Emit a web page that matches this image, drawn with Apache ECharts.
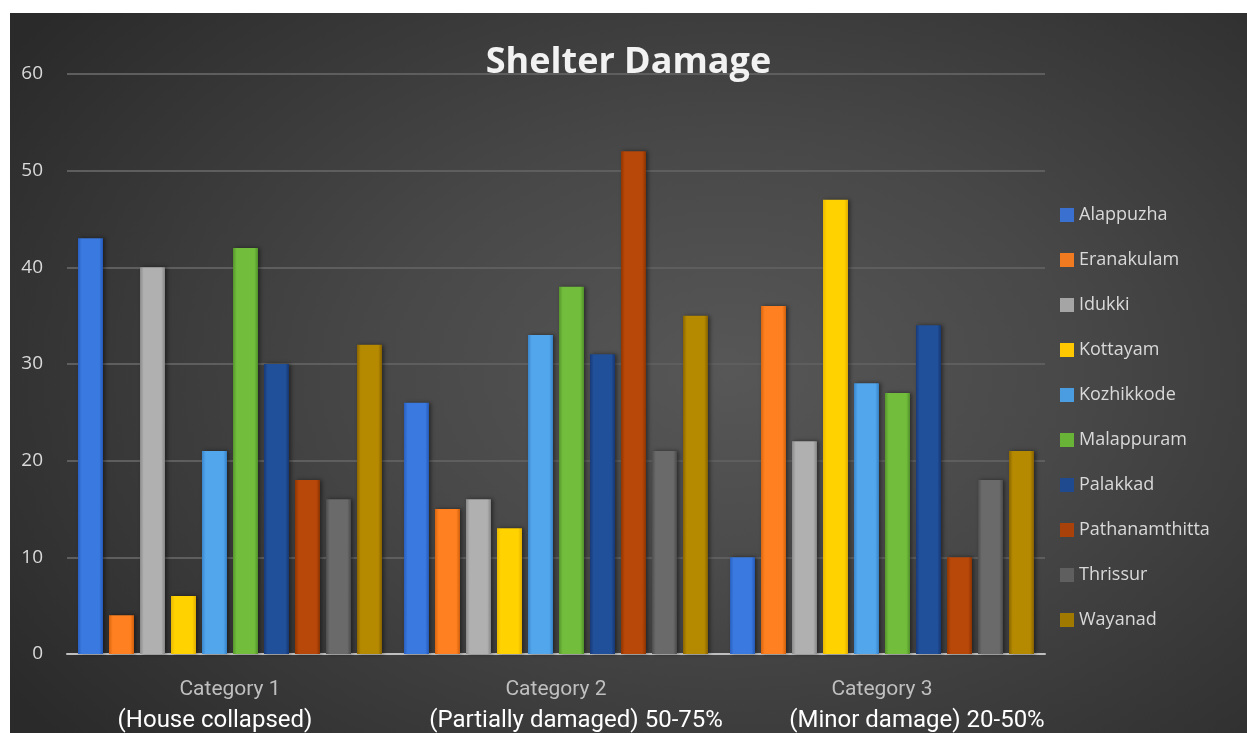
<!DOCTYPE html>
<html><head><meta charset="utf-8">
<script src="https://cdn.jsdelivr.net/npm/echarts@6/dist/echarts.min.js"></script>
<style>
html,body{margin:0;padding:0;background:#fff;width:1247px;height:733px;overflow:hidden}
#c{position:absolute;left:10px;top:13px;width:1237px;height:720px;
background:radial-gradient(ellipse 70% 80% at 58% 50%, #575757 0%, #484848 40%, #343434 80%, #2a2a2a 100%);}
</style></head><body>
<div id="c"></div>
<script>
const categories = ['Category 1', 'Category 2', 'Category 3'];
const subLabels = ['(House collapsed)', '(Partially damaged) 50-75%', '(Minor damage) 20-50%'];
const districts = ['Alappuzha','Eranakulam','Idukki','Kottayam','Kozhikkode','Malappuram','Palakkad','Pathanamthitta','Thrissur','Wayanad'];
const Alappuzha = [43, 26, 10];
const Eranakulam = [4, 15, 36];
const Idukki = [40, 16, 22];
const Kottayam = [6, 13, 47];
const Kozhikkode = [21, 33, 28];
const Malappuram = [42, 38, 27];
const Palakkad = [30, 31, 34];
const Pathanamthitta = [18, 52, 10];
const Thrissur = [16, 21, 18];
const Wayanad = [32, 35, 21];
const values = [Alappuzha, Eranakulam, Idukki, Kottayam, Kozhikkode, Malappuram, Palakkad, Pathanamthitta, Thrissur, Wayanad];
const colors = [
  ['#2a5fc0','#3a7ae0','#2458b5'],
  ['#d9650f','#ff8020','#cf5f0c'],
  ['#8a8a8a','#b0b0b0','#858585'],
  ['#e8b800','#ffd200','#e0ad00'],
  ['#3a86cc','#52a6ec','#3580c5'],
  ['#56952c','#72be3c','#50902a'],
  ['#173a78','#21509a','#163670'],
  ['#8f3500','#b8470a','#8a3300'],
  ['#4d4d4d','#6a6a6a','#4a4a4a'],
  ['#8a6400','#b58a00','#856000']
];
const legendColors = ['#3a70d0','#f07a20','#a5a5a5','#ffc800','#4a9de0','#68b238','#1f4a8f','#a8420a','#5f5f5f','#a07a00'];

const chart = echarts.init(document.getElementById('c'), null, {renderer:'canvas'});
const series = districts.map((name, i) => ({
  name: name,
  type: 'bar',
  data: values[i],
  barWidth: 25,
  barGap: '24%',
  itemStyle: {
    color: new echarts.graphic.LinearGradient(0,0,1,0,[
      {offset:0, color: colors[i][0]},
      {offset:0.15, color: colors[i][1]},
      {offset:0.85, color: colors[i][1]},
      {offset:1, color: colors[i][2]}
    ]),
    shadowColor: 'rgba(0,0,0,0.45)',
    shadowBlur: 4,
    shadowOffsetX: 2
  }
}));

const labelFont = 'Liberation Sans Narrow, Roboto, sans-serif';
chart.setOption({
  backgroundColor: 'transparent',
  color: legendColors,
  animation: false,
  title: {
    text: 'Shelter Damage',
    left: 'center',
    top: 27,
    textStyle: {color:'#f2f2f2', fontFamily:'Open Sans', fontWeight:'bold', fontSize:36}
  },
  legend: {
    orient: 'vertical',
    left: 1045,
    top: 188,
    itemWidth: 14,
    itemHeight: 14,
    itemGap: 27,
    icon: 'rect',
    data: districts.map((d,i)=>({name:d, itemStyle:{color:legendColors[i]}})),
    textStyle: {color:'#d9d9d9', fontFamily:'Open Sans', fontSize:18}
  },
  grid: {left:57, right:202, top:61, bottom:65, containLabel:false},
  xAxis: {
    type: 'category',
    data: categories,
    axisLine: {lineStyle:{color:'#bfbfbf', width:2}},
    axisTick: {show:false},
    axisLabel: {
      interval: 0,
      hideOverlap: false,
      margin: 20,
      formatter: (v, idx) => '{a|' + v + '}\n{b' + idx + '|' + subLabels[idx] + '}',
      rich: {
        a: {color:'#bfbfbf', fontSize:21, fontFamily:labelFont, lineHeight:32},
        b0: {color:'#ffffff', fontSize:24, fontFamily:labelFont, lineHeight:30, padding:[0,30,0,0]},
        b1: {color:'#ffffff', fontSize:24, fontFamily:labelFont, lineHeight:30, padding:[0,0,0,40]},
        b2: {color:'#ffffff', fontSize:24, fontFamily:labelFont, lineHeight:30, padding:[0,0,0,70]}
      }
    }
  },
  yAxis: {
    type: 'value',
    min: 0, max: 60, interval: 10,
    axisLine: {show:false},
    axisTick: {show:false},
    splitLine: {lineStyle:{color:'#5e5e5e', width:2}},
    axisLabel: {color:'#d9d9d9', fontSize:19, fontFamily:'Open Sans', margin:24}
  },
  series: series
});
</script>
</body></html>
